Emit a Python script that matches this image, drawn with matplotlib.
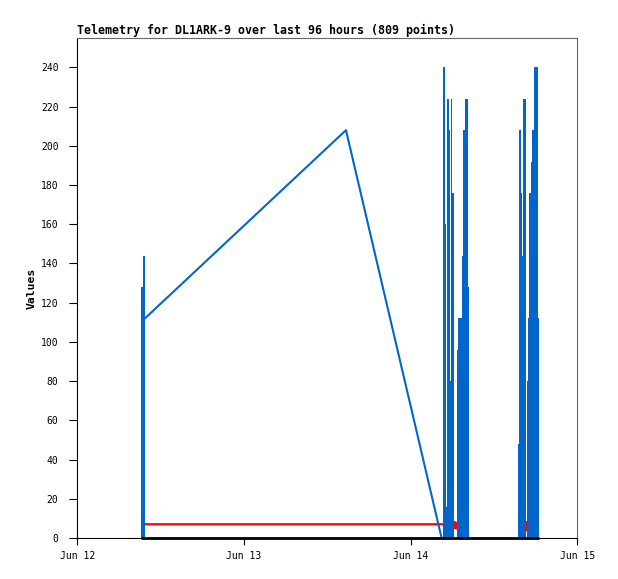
#! /usr/bin/env python3

import datetime as dt
import numpy as np
import matplotlib
matplotlib.use("Agg")
import matplotlib.pyplot as plt
import matplotlib.dates as mdates

# all times in hours after Jun 12 00:00
start_day = dt.datetime(2023, 6, 12)

# dense telemetry bursts
burst_start_h = [9.17, 9.46,
                 52.66, 52.91, 53.09, 53.24, 53.52, 53.67, 53.81, 53.96,
                 54.68, 54.82, 55.40, 55.54, 55.83, 56.26,
                 63.46, 63.61, 63.85, 64.04, 64.18, 64.76, 64.90, 65.04,
                 65.33, 65.48, 65.76, 66.34]
burst_end_h = [9.46, 9.75,
               52.91, 53.09, 53.24, 53.52, 53.67, 53.81, 53.96, 54.24,
               54.82, 55.40, 55.54, 55.83, 56.26, 56.41,
               63.61, 63.85, 64.04, 64.18, 64.61, 64.90, 65.04, 65.33,
               65.48, 65.76, 66.34, 66.48]
burst_value = [128, 144,
               240, 160, 16, 224, 208, 80, 224, 176,
               96, 112, 144, 208, 224, 128,
               48, 208, 176, 144, 224, 80, 112, 176,
               192, 208, 240, 112]

# long gap, blue channel
blue_h = [9.75, 38.7, 52.47]
blue_v = [112, 208, 0]

# red channel
red_h = [9.75, 54.24, 54.30, 54.40, 54.50, 54.60, 54.68]
red_v = [7, 7, 8, 5, 8, 5, 7]
red2_h = [64.61, 64.66, 64.71, 64.76]
red2_v = [8, 4, 8, 4]

# black channel
black_h = [9.17, 66.48]
black_v = [0, 0]

x_ticks = ["Jun 12", "Jun 13", "Jun 14", "Jun 15"]

BLUE = "#0066cc"
MONO = ["DejaVu Sans Mono"]


def to_num(hours):
    return mdates.date2num(start_day) + np.asarray(hours, dtype=float) / 24.0


fig = plt.figure(figsize=(6.18, 5.79), dpi=100)
ax = fig.add_axes([0.125, 0.0708, 0.809, 0.8636])

ax.plot(to_num(red_h), red_v, color="red", lw=1.6, zorder=2)
ax.plot(to_num(red2_h), red2_v, color="red", lw=1.6, zorder=2)

left = to_num(burst_start_h)
widths = to_num(burst_end_h) - left
ax.bar(left, burst_value, width=widths, align="edge", color=BLUE,
       linewidth=0, zorder=3)
ax.plot(to_num(blue_h), blue_v, color=BLUE, lw=1.5, zorder=3)

ax.plot(to_num(black_h), black_v, color="black", lw=2.0, zorder=4,
        clip_on=False, solid_capstyle="butt")

ax.set_xlim(to_num(0), to_num(72))
ax.set_ylim(0, 255)
ax.set_xticks(to_num([0, 24, 48, 72]))
ax.set_xticklabels(x_ticks)
ax.set_yticks(np.arange(0, 241, 20))

for lab in ax.get_xticklabels() + ax.get_yticklabels():
    lab.set_family(MONO)
    lab.set_fontsize(7)
ax.tick_params(axis="y", direction="out", length=5.5, width=0.8, pad=8)
ax.tick_params(axis="x", direction="out", length=5, width=0.8, pad=4.5)

for side in ["top", "right"]:
    ax.spines[side].set_color("#666666")
ax.spines["left"].set_color("black")
ax.spines["bottom"].set_color("black")
for s in ax.spines.values():
    s.set_linewidth(0.8)

ax.set_title("Telemetry for DL1ARK-9 over last 96 hours (809 points)",
             loc="left", family=MONO, fontweight="bold", fontsize=8.35, pad=3)
ax.set_ylabel("Values", family=MONO, fontweight="bold", fontsize=8.2,
              labelpad=3)

fig.savefig("out.png", dpi=100)
